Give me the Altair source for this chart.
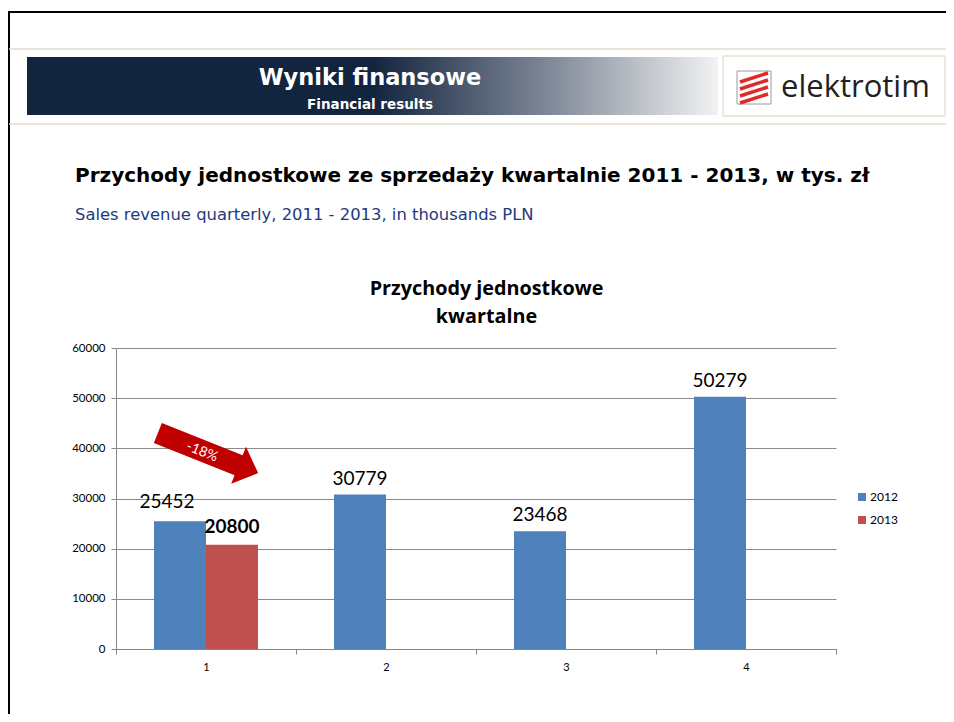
import altair as alt
import pandas as pd

# ---- data ----
quarters = ["1", "2", "3", "4"]
series = ["2012", "2013"]
values_2012 = [25452, 30779, 23468, 50279]
values_2013 = [20800, None, None, None]
y_ticks = [0, 10000, 20000, 30000, 40000, 50000, 60000]

header_title = "Wyniki finansowe"
header_sub = "Financial results"
logo_text = "elektrotim"
main_title = "Przychody jednostkowe ze sprzedaży kwartalnie 2011 - 2013, w tys. zł"
main_sub = "Sales revenue quarterly, 2011 - 2013, in thousands PLN"
chart_title = ["Przychody jednostkowe", "kwartalne"]
arrow_label = "-18%"

rows = []
for q, v in zip(quarters, values_2012):
    rows.append({"kwartal": q, "rok": "2012", "wartosc": v})
for q, v in zip(quarters, values_2013):
    if v is not None:
        rows.append({"kwartal": q, "rok": "2013", "wartosc": v})
df = pd.DataFrame(rows)
one = pd.DataFrame({"_": [0]})

BLUE = "#4f81bd"
RED = "#c0504d"
CAL = "Lato"
WIDE = "DejaVu Sans"

x_enc = alt.X("kwartal:N", sort=quarters,
              scale=alt.Scale(paddingInner=0, paddingOuter=0),
              axis=alt.Axis(title=None, labelAngle=0, tickBand="extent", tickSize=5,
                            tickColor="#868686", domainColor="#868686",
                            labelFont=CAL, labelFontSize=11, labelColor="#000000",
                            labelPadding=7, grid=False))
xo_enc = alt.XOffset("rok:N", scale=alt.Scale(domain=series, paddingInner=0, paddingOuter=0.7308))
y_enc = alt.Y("wartosc:Q", scale=alt.Scale(domain=[0, 60000], nice=False),
              axis=alt.Axis(title=None, values=y_ticks, format="d", grid=True,
                            gridColor="#8c8c8c", gridWidth=1, tickSize=5,
                            tickColor="#868686", domainColor="#868686", labelFont=CAL,
                            labelFontSize=11.5, labelColor="#000000", labelPadding=6))

bars = alt.Chart(df).mark_bar().encode(
    x=x_enc, xOffset=xo_enc, y=y_enc,
    color=alt.Color("rok:N", scale=alt.Scale(domain=series, range=[BLUE, RED]),
                    legend=alt.Legend(title=None, orient="none", legendX=740, legendY=143,
                                      symbolType="square", symbolSize=64,
                                      symbolStrokeWidth=0, labelFont=CAL,
                                      labelFontSize=12, labelColor="#000000",
                                      rowPadding=11, labelOffset=2)),
)

lab_common = dict(font=CAL, fontSize=19, color="#000000", baseline="alphabetic", align="center")
labels_2012 = alt.Chart(df).transform_filter(
    "datum.rok == '2012' && datum.kwartal != '1'"
).mark_text(dy=-10, **lab_common).encode(
    x=alt.X("kwartal:N", sort=quarters), xOffset="rok:N", y="wartosc:Q",
    text=alt.Text("wartosc:Q", format="d"))
labels_q1 = alt.Chart(df).transform_filter(
    "datum.rok == '2012' && datum.kwartal == '1'"
).mark_text(dx=-13, dy=-13, **lab_common).encode(
    x=alt.X("kwartal:N", sort=quarters), xOffset="rok:N", y="wartosc:Q",
    text=alt.Text("wartosc:Q", format="d"))
labels_2013 = alt.Chart(df).transform_filter(
    "datum.rok == '2013'"
).mark_text(dy=-12, fontWeight="bold", **lab_common).encode(
    x=alt.X("kwartal:N", sort=quarters), xOffset="rok:N", y="wartosc:Q",
    text=alt.Text("wartosc:Q", format="d"))


def rule(x, y, x2, y2, color, w):
    return alt.Chart(one).mark_rule(color=color, strokeWidth=w).encode(
        x=alt.value(x), y=alt.value(y), x2=alt.value(x2), y2=alt.value(y2))


def text(t, x, y, **kw):
    return alt.Chart(one).mark_text(text=t, **kw).encode(x=alt.value(x), y=alt.value(y))


def rect(x, y, x2, y2, **kw):
    return alt.Chart(one).mark_rect(**kw).encode(
        x=alt.value(x), y=alt.value(y), x2=alt.value(x2), y2=alt.value(y2))


deco = []
# frame
deco.append(rule(-108, -336, 832, -336, "#000000", 2))
deco.append(rule(-107, -337, -107, 370, "#000000", 2))
# beige separator lines
deco.append(rule(-107, -299, 832, -299, "#e2dfcc", 1.5))
deco.append(rule(-107, -224, 832, -224, "#e2dfcc", 1.5))
# banner with gradient
grad = alt.LinearGradient(gradient="linear", x1=0, x2=1, y1=0, y2=0, stops=[
    alt.GradientStop(color="#13243f", offset=0),
    alt.GradientStop(color="#13243f", offset=0.5),
    alt.GradientStop(color="#7d8696", offset=0.75),
    alt.GradientStop(color="#f2f2f2", offset=1)])
deco.append(rect(-89, -291, 602, -233, fill=grad))
deco.append(text(header_title, 254, -263, font=WIDE, fontSize=22.5, fontWeight="bold",
                 color="#ffffff", align="center", baseline="alphabetic"))
deco.append(text(header_sub, 254, -239, font=WIDE, fontSize=13.5, fontWeight="bold",
                 color="#ffffff", align="center", baseline="alphabetic"))
# logo
deco.append(rect(607, -292, 829, -232, fill="#ffffff", stroke="#d8d4bc", strokeWidth=1))
deco.append(rect(621, -277, 655, -244, fill="#ffffff", stroke="#9a9a9a", strokeWidth=1))
for y0 in [-275, -268, -261, -254]:
    deco.append(rule(624, y0 + 9, 652, y0, "#e02a2a", 3.5))
deco.append(text(logo_text, 665, -251, font="Open Sans", fontSize=31, color="#231f20",
                 align="left", baseline="alphabetic"))
# slide titles
deco.append(text(main_title, -41, -166, font=WIDE, fontSize=20, fontWeight="bold",
                 color="#000000", align="left", baseline="alphabetic"))
deco.append(text(main_sub, -41, -128, font=WIDE, fontSize=16.4, color="#1f3a80",
                 align="left", baseline="alphabetic"))
# chart title
deco.append(text(chart_title[0], 370.5, -53, font="Open Sans", fontSize=19.8, fontWeight="bold",
                 color="#000000", align="center", baseline="alphabetic"))
deco.append(text(chart_title[1], 370.5, -25, font="Open Sans", fontSize=19.8, fontWeight="bold",
                 color="#000000", align="center", baseline="alphabetic"))

arrow_path = "M -1 -0.2 L 0.61 -0.2 L 0.61 -0.37 L 1 0 L 0.61 0.37 L 0.61 0.2 L -1 0.2 Z"
arrow = alt.Chart(one).mark_point(shape=arrow_path, filled=True, size=108 * 108,
                                  angle=21.8, color="#c00000", opacity=1,
                                  strokeWidth=0).encode(x=alt.value(92), y=alt.value(105))
arrow_txt = text(arrow_label, 86, 104, font=CAL, fontSize=14, color="#ffffff",
                 align="center", baseline="middle", angle=22)

chart = alt.layer(*deco, bars, labels_2012, labels_q1, labels_2013, arrow, arrow_txt).properties(
    width=720, height=301,
    autosize=alt.AutoSizeParams(type="none"),
    padding={"left": 108, "top": 340, "right": 110, "bottom": 65},
    background="#ffffff",
).configure_view(stroke=None)

chart.save("out.html", embed_options={"renderer": "svg", "actions": False})
